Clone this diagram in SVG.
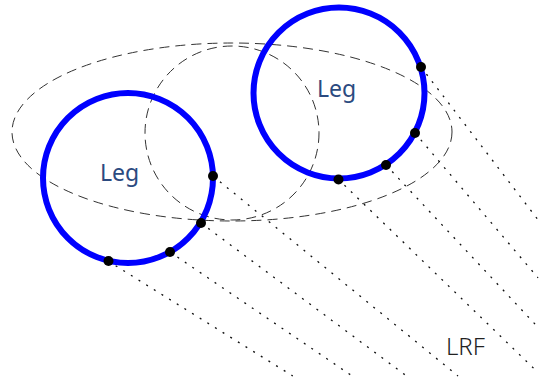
<svg xmlns="http://www.w3.org/2000/svg" width="540" height="385" viewBox="0 0 540 385">
  <style>
    .region { fill: none; stroke: #333; stroke-width: 1; stroke-dasharray: 10 6; }
    .beam { fill: none; stroke: #111; stroke-width: 1.3; stroke-dasharray: 2 7; }
    .leg { fill: none; stroke: #0000ff; stroke-width: 6; }
    .hit { fill: #000; }
    .label { font-family: "Noto Sans", "Liberation Sans", sans-serif; font-size: 23px; fill: #2b4a80; }
    .sensor { font-family: "Noto Sans", "Liberation Sans", sans-serif; font-size: 24px; fill: #222; font-weight: 300; }
  </style>
  <rect width="540" height="385" fill="#fff"/>

  <!-- candidate person regions -->
  <g id="regions">
    <ellipse class="region" cx="232" cy="132" rx="220" ry="89"/>
    <circle class="region" cx="232" cy="133" r="87"/>
  </g>

  <!-- laser beams from the scanner to each hit point -->
  <g id="connectors">
    <line class="beam" x1="108" y1="261" x2="292.8" y2="376"/>
    <line class="beam" x1="170" y1="252" x2="352.2" y2="376"/>
    <line class="beam" x1="201" y1="223" x2="406.6" y2="376"/>
    <line class="beam" x1="213" y1="176" x2="458" y2="376"/>
    <line class="beam" x1="338" y1="179" x2="538" y2="372.5"/>
    <line class="beam" x1="386" y1="165" x2="538" y2="327.3"/>
    <line class="beam" x1="415" y1="133" x2="538" y2="277.8"/>
    <line class="beam" x1="421" y1="67" x2="538" y2="219.8"/>
  </g>

  <g id="leg-left">
    <circle class="leg" cx="128" cy="178" r="85"/>
    <text class="label" x="100" y="181">Leg</text>
    <circle class="hit" cx="213" cy="176" r="5"/>
    <circle class="hit" cx="201" cy="223" r="5"/>
    <circle class="hit" cx="170" cy="252" r="5"/>
    <circle class="hit" cx="108.5" cy="261" r="5"/>
  </g>

  <g id="leg-right">
    <circle class="leg" cx="339" cy="93" r="85.5"/>
    <text class="label" x="317" y="97">Leg</text>
    <circle class="hit" cx="421" cy="67" r="5"/>
    <circle class="hit" cx="415" cy="133" r="5"/>
    <circle class="hit" cx="386" cy="165" r="5"/>
    <circle class="hit" cx="338.5" cy="179.5" r="5"/>
  </g>

  <g id="lrf">
    <text class="sensor" x="446" y="355">LRF</text>
  </g>
</svg>
